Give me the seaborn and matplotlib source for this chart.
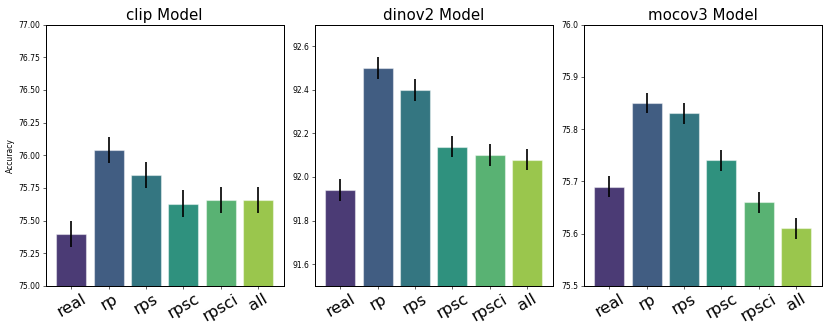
import numpy as np
import pandas as pd
import seaborn as sns
import matplotlib.pyplot as plt

methods = ['real', 'rp', 'rps', 'rpsc', 'rpsci', 'all']
models = ['clip', 'dinov2', 'mocov3']

clip_acc = [75.40, 76.04, 75.85, 75.63, 75.66, 75.66]
dinov2_acc = [91.94, 92.50, 92.40, 92.14, 92.10, 92.08]
mocov3_acc = [75.69, 75.85, 75.83, 75.74, 75.66, 75.61]

clip_err = [0.10, 0.10, 0.10, 0.10, 0.10, 0.10]
dinov2_err = [0.05, 0.05, 0.05, 0.05, 0.05, 0.05]
mocov3_err = [0.02, 0.02, 0.02, 0.02, 0.02, 0.02]

ylims = {'clip': (75.0, 77.0), 'dinov2': (91.5, 92.7), 'mocov3': (75.5, 76.0)}
accs = {'clip': clip_acc, 'dinov2': dinov2_acc, 'mocov3': mocov3_acc}
errs = {'clip': clip_err, 'dinov2': dinov2_err, 'mocov3': mocov3_err}

plt.rcParams['axes.linewidth'] = 1.3

fig, axes = plt.subplots(1, 3, figsize=(15, 6), dpi=830 / 15)

for ax, m in zip(axes, models):
    df = pd.DataFrame({'Method': methods, 'Accuracy': accs[m]})
    sns.barplot(data=df, x='Method', y='Accuracy', hue='Method', palette='viridis',
                legend=False, ax=ax, edgecolor=(1, 1, 1, 0.45), linewidth=1.5)
    ax.errorbar(np.arange(len(methods)), df['Accuracy'], yerr=errs[m],
                fmt='none', ecolor='black', elinewidth=2.2, capsize=0)
    ax.set_ylim(*ylims[m])
    ax.set_title(f'{m} Model', fontsize=19.5)
    ax.set_xlabel('')
    ax.tick_params(axis='x', labelsize=21, rotation=30)
    ax.tick_params(axis='y', labelsize=10)
    if m == 'clip':
        ax.set_ylabel('Accuracy', fontsize=10)
    else:
        ax.set_ylabel('')

plt.subplots_adjust(left=0.055, right=0.99, top=0.926, bottom=0.139, wspace=0.13)
plt.savefig('out.png')
